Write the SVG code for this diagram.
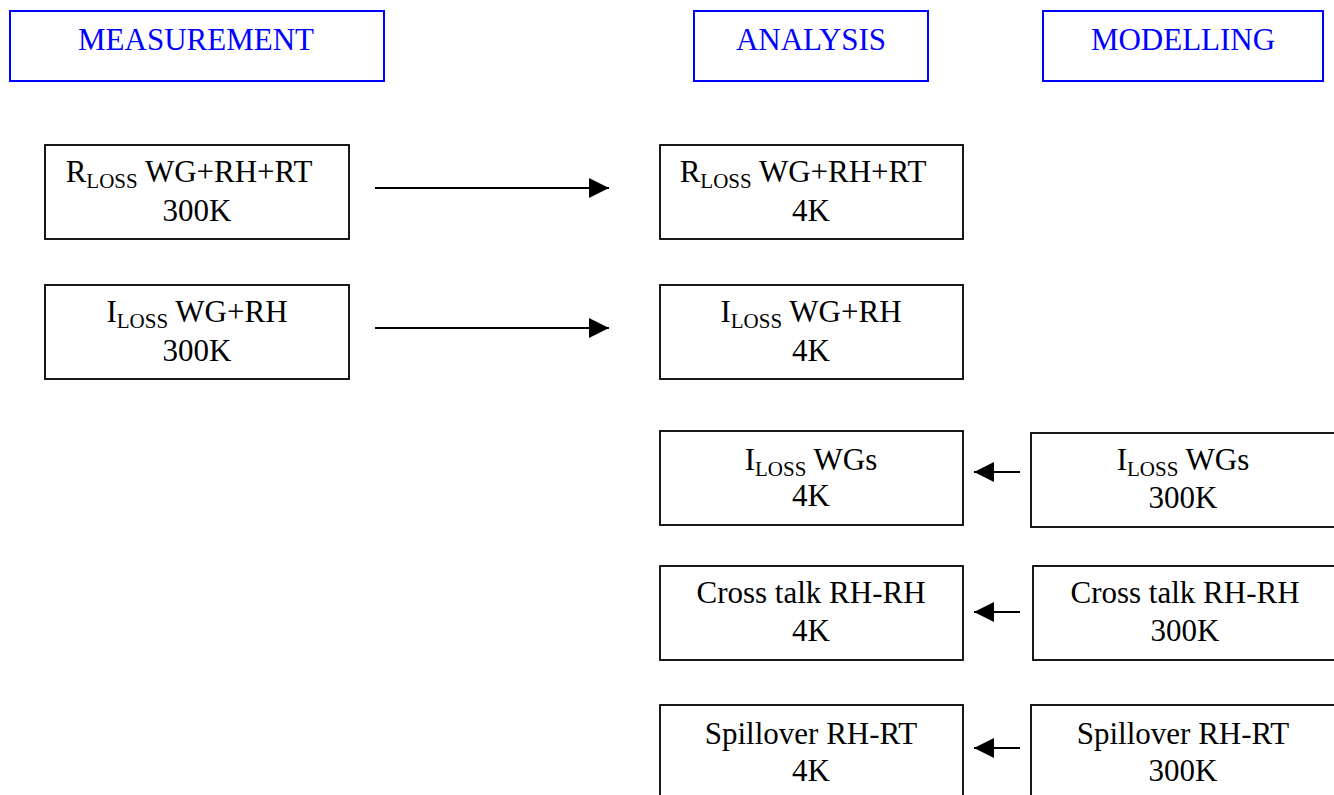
<svg xmlns="http://www.w3.org/2000/svg" width="1334" height="795" viewBox="0 0 1334 795">
<style>
.hdr{fill:#fff;stroke:#0000ff;stroke-width:2}
.ht{font-family:"Liberation Serif",serif;font-size:31px;fill:#0000ff;text-anchor:middle}
.box{fill:#fff;stroke:#000;stroke-width:1.8}
.t{font-family:"Liberation Serif",serif;font-size:31px;fill:#000;text-anchor:middle}
.sub{font-size:21px}
.ln{stroke:#000;stroke-width:2;fill:none}
</style>
<defs>
<marker id="ah" markerWidth="20" markerHeight="20" refX="20" refY="10" orient="auto" markerUnits="userSpaceOnUse" viewBox="0 0 20 20">
<path d="M0,0 L20,10 L0,20 z" fill="#000"/>
</marker>
</defs>
<rect width="1334" height="795" fill="#fff"/>
<g id="hdr-measurement"><rect class="hdr" x="10" y="11" width="374" height="70"/><text class="ht" x="196" y="50">MEASUREMENT</text></g>
<g id="hdr-analysis"><rect class="hdr" x="694" y="11" width="234" height="70"/><text class="ht" x="811" y="50">ANALYSIS</text></g>
<g id="hdr-modelling"><rect class="hdr" x="1043" y="11" width="280" height="70"/><text class="ht" x="1183" y="50">MODELLING</text></g>

<g id="m-rloss"><rect class="box" x="45" y="145" width="304" height="94"/><text class="t" x="189" y="182">R<tspan class="sub" dy="6">LOSS</tspan><tspan dy="-6"> WG+RH+RT</tspan></text><text class="t" x="197" y="221">300K</text></g>
<g id="m-iloss"><rect class="box" x="45" y="285" width="304" height="94"/><text class="t" x="197" y="322">I<tspan class="sub" dy="6">LOSS</tspan><tspan dy="-6"> WG+RH</tspan></text><text class="t" x="197" y="361">300K</text></g>

<g id="a-rloss"><rect class="box" x="660" y="145" width="303" height="94"/><text class="t" x="803" y="182">R<tspan class="sub" dy="6">LOSS</tspan><tspan dy="-6"> WG+RH+RT</tspan></text><text class="t" x="811" y="221">4K</text></g>
<g id="a-iloss"><rect class="box" x="660" y="285" width="303" height="94"/><text class="t" x="811" y="322">I<tspan class="sub" dy="6">LOSS</tspan><tspan dy="-6"> WG+RH</tspan></text><text class="t" x="811" y="361">4K</text></g>
<g id="a-ilosswgs"><rect class="box" x="660" y="431" width="303" height="94"/><text class="t" x="811" y="470">I<tspan class="sub" dy="6">LOSS</tspan><tspan dy="-6"> WGs</tspan></text><text class="t" x="811" y="506">4K</text></g>
<g id="a-crosstalk"><rect class="box" x="660" y="566" width="303" height="94"/><text class="t" x="811" y="603">Cross talk RH-RH</text><text class="t" x="811" y="641">4K</text></g>
<g id="a-spillover"><rect class="box" x="660" y="705" width="303" height="100"/><text class="t" x="811" y="744">Spillover RH-RT</text><text class="t" x="811" y="781">4K</text></g>

<g id="mod-ilosswgs"><rect class="box" x="1031" y="433" width="310" height="94"/><text class="t" x="1183" y="470">I<tspan class="sub" dy="6">LOSS</tspan><tspan dy="-6"> WGs</tspan></text><text class="t" x="1183" y="508">300K</text></g>
<g id="mod-crosstalk"><rect class="box" x="1033" y="566" width="308" height="94"/><text class="t" x="1185" y="603">Cross talk RH-RH</text><text class="t" x="1185" y="641">300K</text></g>
<g id="mod-spillover"><rect class="box" x="1031" y="705" width="310" height="100"/><text class="t" x="1183" y="744">Spillover RH-RT</text><text class="t" x="1183" y="781">300K</text></g>

<g id="connectors">
<line class="ln" x1="375" y1="188" x2="609" y2="188" marker-end="url(#ah)"/>
<line class="ln" x1="375" y1="328" x2="609" y2="328" marker-end="url(#ah)"/>
<line class="ln" x1="1020" y1="472" x2="974" y2="472" marker-end="url(#ah)"/>
<line class="ln" x1="1020" y1="612" x2="974" y2="612" marker-end="url(#ah)"/>
<line class="ln" x1="1020" y1="748" x2="974" y2="748" marker-end="url(#ah)"/>
</g>
</svg>
